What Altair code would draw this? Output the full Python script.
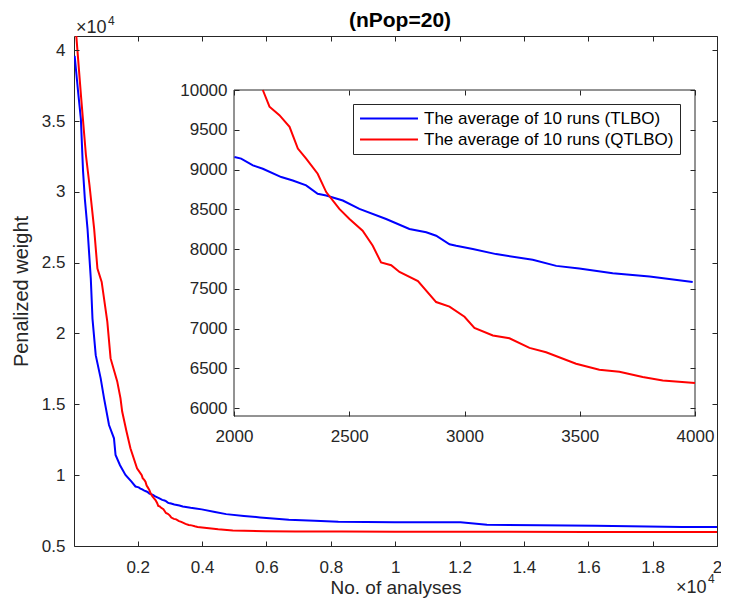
import altair as alt
import pandas as pd

# ---------------- data ----------------
title_text = ["(nPop=20)"]
x_title = "No. of analyses"
y_title = "Penalized weight"
exp_base = ["×10"]
exp_power = ["4"]

series_names = ["The average of 10 runs (TLBO)", "The average of 10 runs (QTLBO)"]
series_colors = ["#0000ff", "#ff0000"]

tlbo_x = [40, 150, 234, 300, 357, 440, 542, 594, 695, 849, 954, 1108, 1262, 1311, 1450, 1619,
          1800, 1930, 2002, 2031, 2082, 2125, 2205, 2255, 2313, 2363, 2400, 2472, 2544, 2660,
          2761, 2834, 2877, 2935, 2964, 3036, 3137, 3296, 3398, 3498, 3643, 3803, 3990, 4400,
          4748, 5300, 5800, 6695, 7500, 8234, 9980, 12030, 12850, 14500, 16230, 18900, 20000]
tlbo_y = [39600, 37000, 35130, 31500, 29500, 27390, 23870, 21050, 18470, 16830, 15420, 13540,
          12600, 11430, 10700, 10020, 9560, 9200, 9158, 9137, 9052, 9010, 8905, 8862, 8800,
          8694, 8673, 8610, 8505, 8378, 8252, 8210, 8167, 8060, 8041, 8000, 7936, 7864, 7788,
          7755, 7696, 7654, 7586, 7400, 7250, 7120, 7020, 6850, 6780, 6720, 6670, 6670, 6500,
          6470, 6430, 6340, 6340]

qtlbo_x = [40, 240, 390, 500, 646, 748, 880, 1055, 1157, 1363, 1465, 1517, 1650, 1773, 1978,
           2125, 2154, 2197, 2241, 2277, 2313, 2363, 2400, 2457, 2501, 2558, 2602, 2638, 2682,
           2718, 2798, 2877, 2935, 3000, 3043, 3123, 3195, 3282, 3354, 3484, 3585, 3672, 3773,
           3860, 4000, 4500, 4954, 5979, 6900, 8340, 10000, 13060, 16000, 20000]
qtlbo_y = [42500, 36700, 32600, 30500, 27390, 24580, 23640, 20840, 18240, 16620, 15420, 14490,
           13100, 11900, 10490, 10000, 9790, 9684, 9537, 9263, 9137, 8947, 8716, 8505, 8378,
           8230, 8041, 7831, 7797, 7712, 7598, 7333, 7275, 7148, 7009, 6912, 6878, 6757, 6701,
           6558, 6482, 6457, 6390, 6347, 6314, 6180, 6100, 6040, 6030, 6020, 6010, 6000, 5990,
           5990]

main_x_domain = [20, 20000]
main_y_domain = [5000, 41000]
main_x_ticks = [2000, 4000, 6000, 8000, 10000, 12000, 14000, 16000, 18000, 20000]
main_y_ticks = [5000, 10000, 15000, 20000, 25000, 30000, 35000, 40000]

inset_x_domain = [2000, 4000]
inset_y_domain = [5900, 10000]
inset_x_ticks = [2000, 2500, 3000, 3500, 4000]
inset_y_ticks = [6000, 6500, 7000, 7500, 8000, 8500, 9000, 9500, 10000]

# ---------------- tables ----------------
rows = []
for name, xs, ys in [(series_names[0], tlbo_x, tlbo_y), (series_names[1], qtlbo_x, qtlbo_y)]:
    for a, b in zip(xs, ys):
        rows.append({"x": a, "y": b, "series": name})
df = pd.DataFrame(rows)
box_df = pd.DataFrame({"x0": [inset_x_domain[0]], "x1": [inset_x_domain[1]],
                       "y0": [inset_y_domain[0]], "y1": [inset_y_domain[1]]})

# ---------------- layout / style ----------------
PAD = {"left": 66, "top": 28, "right": 4, "bottom": 52}
W, H = 643, 510
INSET_X_RANGE = [160, 621]
INSET_Y_RANGE = [380, 54]
FONT = "Liberation Sans"
AX = "#262626"

main_xs = alt.Scale(domain=main_x_domain, nice=False, zero=False)
main_ys = alt.Scale(domain=main_y_domain, nice=False, zero=False)
inset_xs = alt.Scale(domain=inset_x_domain, range=INSET_X_RANGE, nice=False, zero=False)
inset_ys = alt.Scale(domain=inset_y_domain, range=INSET_Y_RANGE, nice=False, zero=False)


def tick_axis(orient, offset, values):
    return alt.Axis(orient=orient, offset=offset, values=values, labels=False, domain=False,
                    ticks=True, tickSize=5, tickColor=AX, title=None, grid=False, zindex=2)


def color_enc():
    return alt.Color(
        "series:N",
        scale=alt.Scale(domain=series_names, range=series_colors),
        legend=alt.Legend(orient="none", legendX=279, legendY=68, title=None,
                          symbolType="M-4,0H4", symbolSize=210, symbolStrokeWidth=2,
                          symbolOffset=21.5, labelOffset=26.5, labelFontSize=17,
                          labelFont=FONT, labelColor="#000000", labelLimit=600, padding=6,
                          rowPadding=3, strokeColor=AX, fillColor="#ffffff"),
    )


inset_filter = (f"datum.x >= {inset_x_domain[0]} && datum.x <= {inset_x_domain[1]} "
                f"&& datum.y <= {inset_y_domain[1]} && datum.y >= {inset_y_domain[0]}")

main_lines = alt.Chart(df).mark_line(strokeWidth=2, clip=True).encode(
    x=alt.X("x:Q", scale=main_xs,
            axis=alt.Axis(orient="bottom", values=main_x_ticks,
                          labelExpr="datum.value / 10000 + ''", title=x_title,
                          ticks=False, tickSize=0, domain=False, labelPadding=13,
                          titlePadding=3, titleFontSize=19, grid=False)),
    y=alt.Y("y:Q", scale=main_ys,
            axis=alt.Axis(orient="left", values=main_y_ticks,
                          labelExpr="datum.value / 10000 + ''", title=y_title,
                          ticks=False, tickSize=0, domain=False, labelPadding=9,
                          titlePadding=10, grid=False)),
    color=color_enc(),
)

main_ticks_a = alt.Chart(df).mark_line(opacity=0).encode(
    x=alt.X("x:Q", scale=main_xs, axis=tick_axis("top", -H, main_x_ticks)),
    y=alt.Y("y:Q", scale=main_ys, axis=tick_axis("right", -W, main_y_ticks)),
    detail="series:N",
)
main_ticks_b = alt.Chart(df).mark_line(opacity=0).encode(
    x=alt.X("x:Q", scale=main_xs, axis=tick_axis("bottom", -H, main_x_ticks)),
    y=alt.Y("y:Q", scale=main_ys, axis=tick_axis("left", -W, main_y_ticks)),
    detail="series:N",
)

inset_box = alt.Chart(box_df).mark_rect(fill="#ffffff", stroke=AX, strokeWidth=1).encode(
    x=alt.X("x0:Q", scale=inset_xs,
            axis=alt.Axis(orient="bottom", offset=-(H - INSET_Y_RANGE[0]), values=inset_x_ticks,
                          ticks=False, tickSize=0, domain=False, labelPadding=12, title=None,
                          grid=False, zindex=2, format="d")),
    x2="x1:Q",
    y=alt.Y("y0:Q", scale=inset_ys,
            axis=alt.Axis(orient="left", offset=-INSET_X_RANGE[0], values=inset_y_ticks,
                          ticks=False, tickSize=0, domain=False, labelPadding=7, title=None,
                          grid=False, zindex=2, format="d")),
    y2="y1:Q",
)

inset_lines = alt.Chart(df).transform_filter(inset_filter).mark_line(strokeWidth=2).encode(
    x=alt.X("x:Q", scale=inset_xs, axis=tick_axis("top", -INSET_Y_RANGE[0], inset_x_ticks)),
    y=alt.Y("y:Q", scale=inset_ys, axis=tick_axis("right", INSET_X_RANGE[0] - W, inset_y_ticks)),
    color=color_enc(),
)

inset_ticks_b = alt.Chart(df).transform_filter(inset_filter).mark_line(opacity=0).encode(
    x=alt.X("x:Q", scale=inset_xs, axis=tick_axis("bottom", INSET_Y_RANGE[1] - H, inset_x_ticks)),
    y=alt.Y("y:Q", scale=inset_ys, axis=tick_axis("left", -INSET_X_RANGE[1], inset_y_ticks)),
    detail="series:N",
)


def text_layer(values, x, y, size, weight="normal", align="left", color=AX):
    return alt.Chart(pd.DataFrame({"t": values})).mark_text(
        font=FONT, fontSize=size, fontWeight=weight, align=align, baseline="alphabetic",
        color=color,
    ).encode(x=alt.value(x), y=alt.value(y), text="t:N")


title_layer = text_layer(title_text, 326, -9, 21, weight="bold", align="center", color="#000000")
exp_tl_base = text_layer(exp_base, 2, -3, 18)
exp_tl_pow = text_layer(exp_power, 34, -11, 12)
exp_br_base = text_layer(exp_base, W - 41, 557, 18)
exp_br_pow = text_layer(exp_power, W - 9, 547, 12)

chart = alt.layer(
    main_lines, main_ticks_a, main_ticks_b,
    inset_box, inset_lines, inset_ticks_b,
    title_layer, exp_tl_base, exp_tl_pow, exp_br_base, exp_br_pow,
).resolve_scale(
    x="independent", y="independent"
).properties(
    width=W, height=H,
    padding=PAD,
    autosize=alt.AutoSizeParams(type="none"),
).configure_view(
    stroke=AX, strokeWidth=1
).configure_axis(
    labelFont=FONT, titleFont=FONT, labelFontSize=17, titleFontSize=20,
    labelColor=AX, titleColor=AX, titleFontWeight="normal", labelFlush=False,
    grid=False, tickColor=AX,
)

chart.save("out.html", embed_options={"renderer": "svg", "actions": False})
